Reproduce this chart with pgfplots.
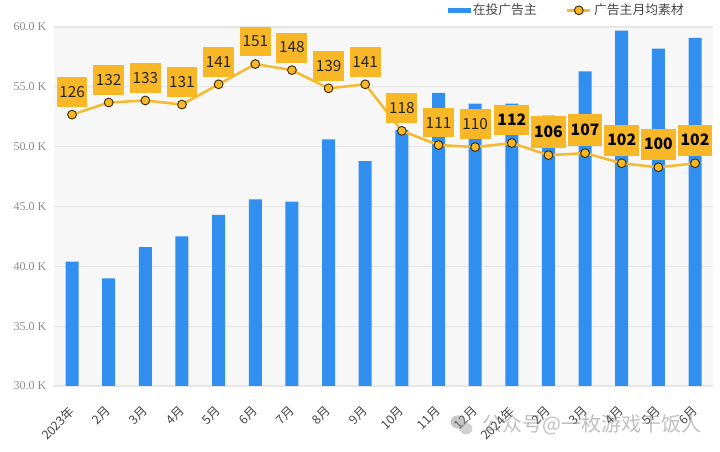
\documentclass[border=0pt]{standalone}
\usepackage{pgfplots}
\pgfplotsset{compat=1.18}
\usepackage{fontspec}
\newfontfamily\cjk{Noto Sans CJK SC}
\newfontfamily\yfont{Liberation Serif}
\definecolor{barblue}{RGB}{49,143,240}
\definecolor{lineorange}{RGB}{245,185,50}
\definecolor{boxorange}{RGB}{247,183,38}
\definecolor{bggray}{RGB}{247,247,247}
\definecolor{gridgray}{RGB}{230,230,230}
\definecolor{ticktext}{RGB}{140,140,140}
\definecolor{xtext}{RGB}{70,70,70}
\definecolor{markedge}{RGB}{60,45,10}
\begin{document}
\begin{tikzpicture}
\useasboundingbox (0,0) rectangle (540pt,339pt);
\begin{axis}[
  at={(40.3pt,49.5pt)}, anchor=south west,
  scale only axis, width=494.7pt, height=269.25pt,
  xmin=-0.5, xmax=17.5, ymin=30, ymax=60,
  axis line style={draw=none},
  axis background/.style={fill=bggray},
  ymajorgrids, grid style={gridgray, line width=0.8pt},
  ytick={30,35,40,45,50,55,60},
  yticklabel={\pgfmathprintnumber[fixed,fixed zerofill,precision=1]{\tick}\ K},
  /pgf/number format/assume math mode=true,
  yticklabel style={font=\yfont\fontsize{9}{10}\selectfont, text=ticktext, xshift=-2pt},
  xtick={0,...,17},
  xticklabels={2023年,2月,3月,4月,5月,6月,7月,8月,9月,10月,11月,12月,2024年,2月,3月,4月,5月,6月},
  xticklabel style={font=\cjk\fontsize{9.3}{11}\selectfont, text=xtext, xshift=-3pt, yshift=-9.5pt, rotate=45, anchor=north east},
  major tick length=0pt,
  tick style={draw=none},
  clip=false,
]
\addplot[ybar, bar width=9.75pt, fill=barblue, draw=none] coordinates {
(0,40.4) (1,39.0) (2,41.6) (3,42.5) (4,44.3) (5,45.6) (6,45.4) (7,50.6) (8,48.8)
(9,51.4) (10,54.5) (11,53.6) (12,53.6) (13,52.6) (14,56.3) (15,59.7) (16,58.2) (17,59.1)};
\end{axis}
\begin{axis}[
  at={(40.3pt,49.5pt)}, anchor=south west,
  scale only axis, width=494.7pt, height=269.25pt,
  xmin=-0.5, xmax=17.5, ymin=-8, ymax=169.3,
  axis lines=none, ticks=none,
  clip=false,
  legend columns=2,
  legend style={at={(1,1)}, anchor=east, xshift=-17pt, yshift=12.5pt, draw=none, fill=none,
    font=\cjk\fontsize{9.6}{11}\selectfont, text=xtext,
    /tikz/every even column/.append style={column sep=20pt}},
]
\addlegendimage{legend image code/.code={\fill[barblue] (0pt,-1.6pt) rectangle (16pt,1.6pt);}}
\addlegendentry{在投广告主}
\addplot[lineorange, line width=1.9pt, mark=*, mark size=3.3pt,
  mark options={fill=boxorange, draw=markedge, line width=0.7pt}] coordinates {
(0,126) (1,132) (2,133) (3,131) (4,141) (5,151) (6,148) (7,139) (8,141)
(9,118) (10,111) (11,110) (12,112) (13,106) (14,107) (15,102) (16,100) (17,102)};
\addlegendentry{广告主月均素材}
\addplot[draw=none, forget plot, nodes near coords,
  point meta=explicit,
  nodes near coords style={anchor=south, yshift=5.5pt, fill=boxorange, text=black!85,
    inner xsep=2pt, inner ysep=7pt, font=\cjk\fontsize{11.5}{12}\selectfont,
    /pgf/number format/assume math mode=true}] coordinates {
(0,126) [126] (1,132) [132] (2,133) [133] (3,131) [131] (4,141) [141] (5,151) [151]
(6,148) [148] (7,139) [139] (8,141) [141] (9,118) [118] (10,111) [111] (11,110) [110]};
\addplot[draw=none, forget plot, nodes near coords,
  point meta=explicit,
  nodes near coords style={anchor=south, yshift=5.5pt, fill=boxorange, text=black,
    inner xsep=2.2pt, inner ysep=7.2pt, font=\cjk\bfseries\fontsize{11.8}{12}\selectfont,
    /pgf/number format/assume math mode=true}] coordinates {
(12,112) [112] (13,106) [106] (14,107) [107] (15,102) [102] (16,100) [100] (17,102) [102]};
\end{axis}
\begin{scope}[opacity=0.45]
\fill[gray] (343.5pt,22.5pt) ellipse (5.5pt and 5pt);
\fill[gray!80] (349.5pt,17.5pt) ellipse (4.8pt and 4.3pt);
\end{scope}
\node[anchor=west, inner sep=0pt, text=gray, opacity=0.5, font=\cjk\fontsize{15}{16}\selectfont] at (361.5pt,20.5pt) {公众号@一枚游戏干饭人};
\end{tikzpicture}
\end{document}
